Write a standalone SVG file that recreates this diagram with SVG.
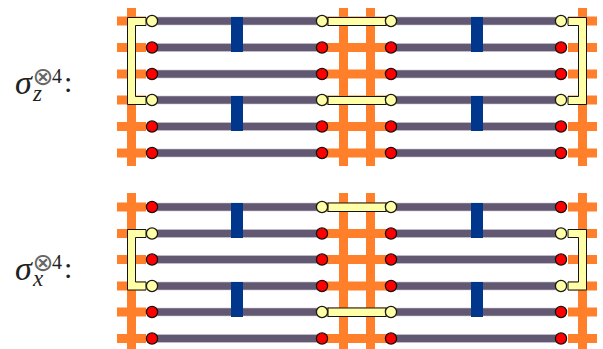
<svg xmlns="http://www.w3.org/2000/svg" width="603" height="349" viewBox="0 0 603 349">
<defs>
<style>
.o{fill:#ff7f2a}
.g{fill:#635872;stroke:#c9c5d0;stroke-width:.6}
.b{fill:#00368c}
.r{fill:#ff0000;stroke:#1a1010;stroke-width:1.3}
.y{fill:#ffffa8;stroke:#1a1a10;stroke-width:1.3}
.k{fill:#ffffa8;stroke:#151510;stroke-width:1}
.t{font-family:"Liberation Serif","DejaVu Serif",serif;fill:#222}
.i{font-style:italic}
.s{font-family:"DejaVu Sans",sans-serif;font-size:25px;fill:#666}
</style>
<g id="orangeH"><rect class="o" x="117" y="-4.500" width="29" height="9"/><rect class="o" x="322" y="-4.500" width="69" height="9"/><rect class="o" x="568" y="-4.500" width="29" height="9"/></g>
<g id="orangeV"><rect class="o" x="127" y="0" width="9" height="158"/><rect class="o" x="339" y="0" width="9" height="158"/><rect class="o" x="366" y="0" width="9" height="158"/><rect class="o" x="578" y="0" width="9" height="158"/></g>
<g id="grayH"><rect class="g" x="152" y="-4" width="170" height="8"/><rect class="g" x="391" y="-4" width="170" height="8"/></g>
</defs>
<g id="connectors">
<use href="#orangeV" y="8"/><use href="#orangeV" y="193"/>
<use href="#orangeH" y="21"/><use href="#orangeH" y="47.500"/><use href="#orangeH" y="74"/><use href="#orangeH" y="100"/><use href="#orangeH" y="126.500"/><use href="#orangeH" y="153"/>
<use href="#orangeH" y="207"/><use href="#orangeH" y="233.500"/><use href="#orangeH" y="259.500"/><use href="#orangeH" y="286"/><use href="#orangeH" y="312"/><use href="#orangeH" y="338.500"/>
<use href="#grayH" y="21"/><use href="#grayH" y="47.500"/><use href="#grayH" y="74"/><use href="#grayH" y="100"/><use href="#grayH" y="126.500"/><use href="#grayH" y="153"/>
<use href="#grayH" y="207"/><use href="#grayH" y="233.500"/><use href="#grayH" y="259.500"/><use href="#grayH" y="286"/><use href="#grayH" y="312"/><use href="#grayH" y="338.500"/>
<rect class="b" x="231" y="17" width="12" height="35"/><rect class="b" x="471" y="17" width="12" height="35"/>
<rect class="b" x="231" y="96" width="12" height="35"/><rect class="b" x="471" y="96" width="12" height="35"/>
<rect class="b" x="231" y="203" width="12" height="35"/><rect class="b" x="471" y="203" width="12" height="35"/>
<rect class="b" x="231" y="282" width="12" height="35"/><rect class="b" x="471" y="282" width="12" height="35"/>
</g>
<g id="brackets">
<path class="k" d="M146 17.500H127.500V104.500H146V96.500H135.500V25.500H146Z"/>
<path class="k" d="M568 17.500H586.500V104.500H568V96.500H578.500V25.500H568Z"/>
<path class="k" d="M146 229.500H127.500V290H146V282H135.500V237.500H146Z"/>
<path class="k" d="M568 229.500H586.500V290H568V282H578.500V237.500H568Z"/>
<rect class="k" x="328" y="17.500" width="58" height="8"/>
<rect class="k" x="328" y="96.500" width="58" height="8"/>
<rect class="k" x="328" y="203" width="58" height="8.500"/>
<rect class="k" x="328" y="308" width="58" height="8.500"/>
</g>
<g id="top-nodes">
<circle class="y" cx="152" cy="21" r="5.600"/><circle class="y" cx="322" cy="21" r="5.600"/><circle class="y" cx="391" cy="21" r="5.600"/><circle class="y" cx="561" cy="21" r="5.600"/>
<circle class="r" cx="152" cy="47.500" r="5.600"/><circle class="r" cx="322" cy="47.500" r="5.600"/><circle class="r" cx="391" cy="47.500" r="5.600"/><circle class="r" cx="561" cy="47.500" r="5.600"/>
<circle class="r" cx="152" cy="74" r="5.600"/><circle class="r" cx="322" cy="74" r="5.600"/><circle class="r" cx="391" cy="74" r="5.600"/><circle class="r" cx="561" cy="74" r="5.600"/>
<circle class="y" cx="152" cy="100" r="5.600"/><circle class="y" cx="322" cy="100" r="5.600"/><circle class="y" cx="391" cy="100" r="5.600"/><circle class="y" cx="561" cy="100" r="5.600"/>
<circle class="r" cx="152" cy="126.500" r="5.600"/><circle class="r" cx="322" cy="126.500" r="5.600"/><circle class="r" cx="391" cy="126.500" r="5.600"/><circle class="r" cx="561" cy="126.500" r="5.600"/>
<circle class="r" cx="152" cy="153" r="5.600"/><circle class="r" cx="322" cy="153" r="5.600"/><circle class="r" cx="391" cy="153" r="5.600"/><circle class="r" cx="561" cy="153" r="5.600"/>
</g>
<g id="bottom-nodes">
<circle class="r" cx="152" cy="207" r="5.600"/><circle class="y" cx="322" cy="207" r="5.600"/><circle class="y" cx="391" cy="207" r="5.600"/><circle class="r" cx="561" cy="207" r="5.600"/>
<circle class="y" cx="152" cy="233.500" r="5.600"/><circle class="r" cx="322" cy="233.500" r="5.600"/><circle class="r" cx="391" cy="233.500" r="5.600"/><circle class="y" cx="561" cy="233.500" r="5.600"/>
<circle class="r" cx="152" cy="259.500" r="5.600"/><circle class="r" cx="322" cy="259.500" r="5.600"/><circle class="r" cx="391" cy="259.500" r="5.600"/><circle class="r" cx="561" cy="259.500" r="5.600"/>
<circle class="y" cx="152" cy="286" r="5.600"/><circle class="r" cx="322" cy="286" r="5.600"/><circle class="r" cx="391" cy="286" r="5.600"/><circle class="y" cx="561" cy="286" r="5.600"/>
<circle class="r" cx="152" cy="312" r="5.600"/><circle class="y" cx="322" cy="312" r="5.600"/><circle class="y" cx="391" cy="312" r="5.600"/><circle class="r" cx="561" cy="312" r="5.600"/>
<circle class="r" cx="152" cy="338.500" r="5.600"/><circle class="r" cx="322" cy="338.500" r="5.600"/><circle class="r" cx="391" cy="338.500" r="5.600"/><circle class="r" cx="561" cy="338.500" r="5.600"/>
</g>
<g id="label-z" class="t">
<text class="i" x="15" y="94" font-size="34">σ</text>
<text class="s" x="32.500" y="85">⊗</text>
<text x="52" y="83" font-size="20">4</text>
<text class="i" x="33" y="101" font-size="23">z</text>
<text x="64" y="92" font-size="30">:</text>
</g>
<g id="label-x" class="t">
<text class="i" x="15" y="280" font-size="34">σ</text>
<text class="s" x="32.500" y="271">⊗</text>
<text x="52" y="269" font-size="20">4</text>
<text class="i" x="33" y="286" font-size="23">x</text>
<text x="64" y="278" font-size="30">:</text>
</g>
</svg>
